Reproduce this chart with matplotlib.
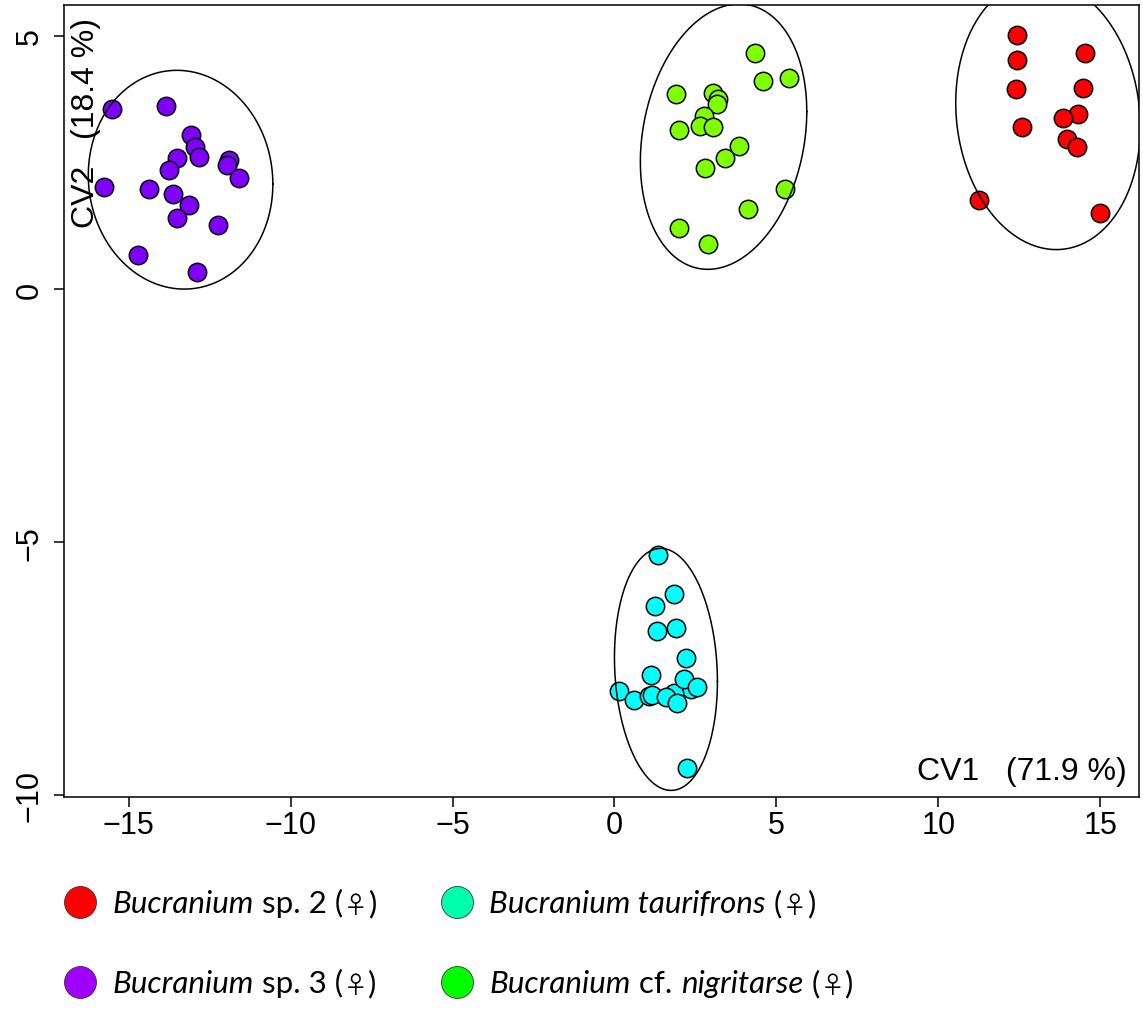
import numpy as np
import matplotlib
matplotlib.use("Agg")
import matplotlib.pyplot as plt

# ---- data (CV1, CV2 scores) ----
sp2_x = [12.43, 12.42, 14.54, 12.40, 14.46, 14.31, 13.85, 12.58, 13.97, 14.30, 11.25, 14.99]
sp2_y = [5.02, 4.53, 4.66, 3.96, 3.98, 3.46, 3.37, 3.21, 2.96, 2.80, 1.75, 1.51]

sp3_x = [-15.53, -13.86, -13.09, -12.96, -12.82, -13.52, -13.75, -11.91, -11.98,
         -11.60, -15.77, -14.38, -13.63, -13.15, -13.50, -12.25, -14.73, -12.90]
sp3_y = [3.55, 3.62, 3.05, 2.80, 2.60, 2.58, 2.35, 2.55, 2.45,
         2.20, 2.02, 1.97, 1.88, 1.66, 1.40, 1.27, 0.67, 0.34]

nig_x = [4.33, 4.60, 5.39, 1.90, 3.05, 3.21, 3.18, 2.78, 2.63,
         3.05, 1.98, 3.84, 3.40, 2.79, 5.26, 4.12, 2.00, 2.88]
nig_y = [4.67, 4.11, 4.17, 3.86, 3.87, 3.75, 3.65, 3.42, 3.22,
         3.21, 3.15, 2.82, 2.59, 2.39, 1.97, 1.59, 1.20, 0.89]

tau_x = [1.34, 1.83, 1.25, 1.32, 1.89, 2.21, 1.14, 2.35, 1.83, 2.16,
         2.56, 0.13, 0.60, 1.06, 1.17, 1.58, 1.94, 2.23]
tau_y = [-5.26, -6.02, -6.25, -6.76, -6.69, -7.28, -7.62, -7.90, -7.97, -7.70,
         -7.86, -7.93, -8.11, -8.03, -8.01, -8.06, -8.17, -9.46]

groups = [(sp2_x, sp2_y), (sp3_x, sp3_y), (nig_x, nig_y), (tau_x, tau_y)]
point_colors = ["#FF0000", "#7F00FF", "#7FFF00", "#00FFFF"]

# ellipses: centre, half-extent in x and y, tilt phase
ell_cx = [13.39, -13.40, 3.37, 1.59]
ell_cy = [3.44, 2.16, 3.01, -7.51]
ell_rx = [2.85, 2.85, 2.57, 1.59]
ell_ry = [2.66, 2.16, 2.62, 2.39]
ell_phi = [-0.09, -0.04, 0.19, -0.10]

x_ticks = [-15, -10, -5, 0, 5, 10, 15]
y_ticks = [-10, -5, 0, 5]

# legend
legend_colors = ["#FF0000", "#00FFAA", "#A000FF", "#00FF00"]
legend_parts = [
    [("Bucranium", "italic"), (" sp. 2 (", "normal"), ("\u2640", "sym"), (")", "normal")],
    [("Bucranium taurifrons", "italic"), (" (", "normal"), ("\u2640", "sym"), (")", "normal")],
    [("Bucranium", "italic"), (" sp. 3 (", "normal"), ("\u2640", "sym"), (")", "normal")],
    [("Bucranium", "italic"), (" cf. ", "normal"), ("nigritarse", "italic"),
     (" (", "normal"), ("\u2640", "sym"), (")", "normal")],
]

plt.rcParams["font.family"] = ["Liberation Sans", "DejaVu Sans"]

W, H = 1143, 1012
fig = plt.figure(figsize=(W / 100, H / 100), dpi=100)
ax = fig.add_axes([64 / W, 1 - 798 / H, (1139 - 64) / W, (798 - 6) / H])

for (gx, gy), c in zip(groups, point_colors):
    ax.scatter(gx, gy, s=175, c=c, edgecolors="black", linewidths=1.1, zorder=3)

t = np.linspace(0, 2 * np.pi, 300)
for cx, cy, rx, ry, ph in zip(ell_cx, ell_cy, ell_rx, ell_ry, ell_phi):
    ax.plot(cx + rx * np.cos(t), cy + ry * np.sin(t + ph), color="black", lw=1.1, zorder=4)

ax.set_xlim(-17.0, 16.2)
ax.set_ylim(-10.03, 5.61)
ax.set_xticks(x_ticks)
ax.set_yticks(y_ticks)
ax.tick_params(direction="out", length=7.5, width=1.1, labelsize=22)
ax.tick_params(axis="x", pad=2)
ax.tick_params(axis="y", pad=6.5)
for lab in ax.get_yticklabels():
    lab.set_rotation(90)
    lab.set_va("center")
for s in ax.spines.values():
    s.set_linewidth(1.1)

ax.text(0.989, 0.0227, "CV1   (71.9 %)", transform=ax.transAxes, ha="right",
        va="baseline", fontsize=23)
ax.text(0.0205, 0.985, "CV2   (18.4 %)", transform=ax.transAxes, ha="center",
        va="top", rotation=90, fontsize=23)

# legend below the plot: circle + text pieces placed one after another
fonts = {"italic": (["Lato", "DejaVu Sans"], "italic", 22.5),
         "normal": (["Lato", "DejaVu Sans"], "normal", 22.5),
         "sym": (["Noto Sans CJK JP", "DejaVu Sans"], "normal", 17)}
renderer = fig.canvas.get_renderer()
leg_pos = [(80, 903), (457, 903), (80, 983), (457, 983)]
for (px, py), c, parts in zip(leg_pos, legend_colors, legend_parts):
    fig.lines.append(plt.Line2D([px / W], [1 - py / H], transform=fig.transFigure,
                                marker="o", markersize=23, markerfacecolor=c,
                                markeredgecolor="#333333", markeredgewidth=0.6,
                                linestyle="none"))
    xpos = px + 32
    for txt, kind in parts:
        fam, style, size = fonts[kind]
        tx = fig.text(xpos / W, 1 - (py + 10) / H, txt, fontsize=size, family=fam,
                      style=style, ha="left", va="baseline", color="black")
        xpos = tx.get_window_extent(renderer).x1 + 0.5

fig.savefig("out.png", dpi=100)
